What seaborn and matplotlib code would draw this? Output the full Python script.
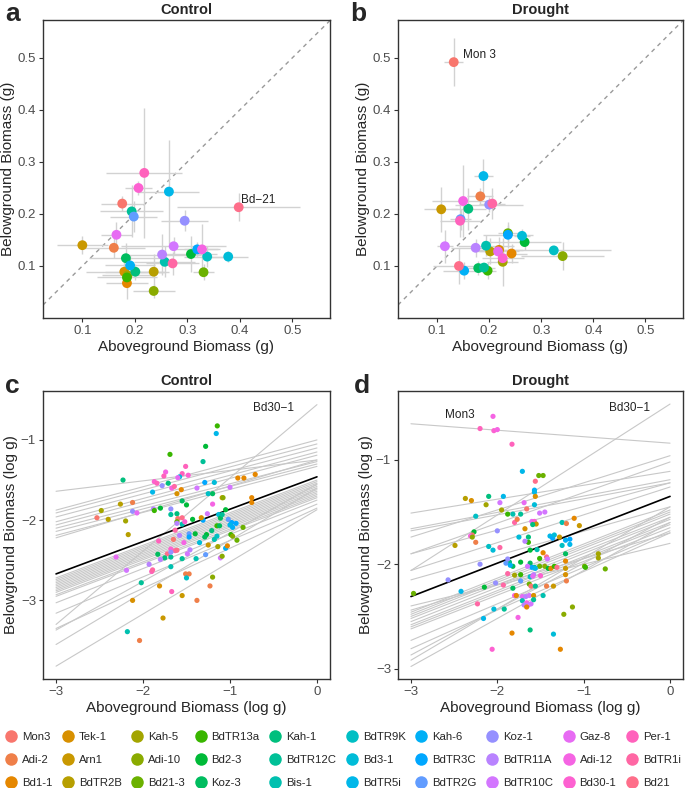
import numpy as np
import pandas as pd
import matplotlib
matplotlib.use("Agg")
import matplotlib.pyplot as plt
from matplotlib.lines import Line2D
import seaborn as sns

genotypes = ["Mon3", "Adi-2", "Bd1-1", "Tek-1", "Arn1", "BdTR2B", "Kah-5", "Adi-10",
             "Bd21-3", "BdTR13a", "Bd2-3", "Koz-3", "Kah-1", "BdTR12C", "Bis-1",
             "BdTR9K", "Bd3-1", "BdTR5i", "Kah-6", "BdTR3C", "BdTR2G", "Koz-1",
             "BdTR11A", "BdTR10C", "Gaz-8", "Adi-12", "Bd30-1", "Per-1", "BdTR1i", "Bd21"]

# panel a: genotype means (g) with standard errors, in genotype order
ctrl_above = [0.176, 0.160, 0.185, 0.180, 0.100, 0.236, 0.186, 0.236, 0.331, 0.185,
              0.307, 0.183, 0.201, 0.194, 0.257, 0.338, 0.378, 0.265, 0.191, 0.319,
              0.198, 0.295, 0.252, 0.274, 0.165, 0.328, 0.207, 0.218, 0.272, 0.398]
ctrl_below = [0.220, 0.135, 0.067, 0.089, 0.140, 0.089, 0.082, 0.052, 0.088, 0.078,
              0.123, 0.115, 0.089, 0.205, 0.108, 0.118, 0.118, 0.243, 0.101, 0.132,
              0.195, 0.187, 0.122, 0.138, 0.160, 0.132, 0.250, 0.279, 0.105, 0.213]
ctrl_above_se = [0.040, 0.060, 0.040, 0.073, 0.048, 0.030, 0.048, 0.040, 0.020, 0.058,
                 0.050, 0.070, 0.057, 0.060, 0.058, 0.045, 0.038, 0.058, 0.048, 0.040,
                 0.045, 0.045, 0.075, 0.100, 0.030, 0.035, 0.025, 0.072, 0.050, 0.117]
ctrl_below_se = [0.015, 0.020, 0.030, 0.025, 0.017, 0.035, 0.020, 0.013, 0.015, 0.020,
                 0.035, 0.030, 0.015, 0.050, 0.030, 0.020, 0.010, 0.100, 0.020, 0.015,
                 0.030, 0.020, 0.040, 0.017, 0.025, 0.048, 0.013, 0.125, 0.022, 0.027]

# panel b
drought_above = [0.132, 0.183, 0.243, 0.219, 0.108, 0.202, 0.226, 0.341, 0.236, 0.197,
                 0.268, 0.179, 0.160, 0.190, 0.194, 0.324, 0.263, 0.189, 0.152, 0.236,
                 0.145, 0.200, 0.174, 0.115, 0.217, 0.150, 0.226, 0.144, 0.206, 0.142]
drought_below = [0.492, 0.234, 0.124, 0.131, 0.209, 0.128, 0.108, 0.119, 0.163, 0.091,
                 0.146, 0.096, 0.210, 0.097, 0.139, 0.130, 0.158, 0.273, 0.091, 0.160,
                 0.190, 0.218, 0.135, 0.138, 0.128, 0.225, 0.115, 0.187, 0.220, 0.100]
drought_above_se = [0.018, 0.025, 0.030, 0.045, 0.033, 0.022, 0.030, 0.080, 0.020, 0.016,
                    0.070, 0.020, 0.033, 0.022, 0.054, 0.110, 0.016, 0.018, 0.040, 0.048,
                    0.020, 0.065, 0.048, 0.016, 0.040, 0.060, 0.040, 0.038, 0.025, 0.050]
drought_below_se = [0.046, 0.016, 0.018, 0.025, 0.043, 0.025, 0.046, 0.027, 0.015, 0.016,
                    0.016, 0.013, 0.040, 0.007, 0.020, 0.005, 0.013, 0.032, 0.016, 0.025,
                    0.020, 0.015, 0.017, 0.032, 0.010, 0.070, 0.010, 0.032, 0.030, 0.034]

# panel c: individual plants (log g), genotype index
c_x = [-1.146, -1.158, -1.28, -1.69, -1.31, -1.51, -1.74, -1.55, -1.48, -1.76, -1.58, -1.60,
       -2.23, -1.87, -1.84, -1.78, -1.71, -1.67, -1.64, -1.56, -1.61, -1.89, -1.38, -1.29,
       -1.18, -1.25, -1.20, -1.09, -1.00, -0.91, -0.84, -0.71, -0.75, -0.75, -2.26, -2.12,
       -2.12, -2.07, -2.48, -2.53, -2.40, -2.20, -2.17, -1.88, -1.87, -1.80, -1.68, -1.68,
       -1.61, -1.55, -1.50, -1.60, -1.55, -1.61, -1.55, -1.61, -1.52, -1.43, -1.31, -1.33,
       -1.26, -1.20, -1.13, -1.11, -1.09, -1.05, -1.08, -1.15, -1.12, -1.02, -0.98, -1.00,
       -0.97, -0.93, -0.85, -0.99, -0.97, -0.92, -1.21, -1.15, -1.18, -1.27, -1.29, -1.40,
       -1.35, -1.47, -1.47, -1.58, -1.63, -1.65, -1.82, -1.68, -1.63, -1.61, -1.72, -1.83,
       -1.68, -1.75, -1.80, -1.68, -1.53, -1.55, -1.49, -1.46, -1.39, -1.28, -1.25, -1.14,
       -1.05, -1.03, -1.11, -1.09, -2.31, -2.19, -1.93, -1.90, -1.89, -1.68, -1.51, -1.47,
       -1.50, -1.20, -1.23, -2.02, -1.81, -1.67, -1.55, -1.38, -2.12, -1.77, -2.18, -2.04]
c_y = [-0.825, -0.92, -1.08, -1.18, -1.27, -1.33, -1.40, -1.42, -1.44, -1.45, -1.46, -1.47,
       -1.50, -1.52, -1.54, -1.57, -1.54, -1.60, -1.58, -1.62, -1.67, -1.65, -1.60, -1.53,
       -1.53, -1.67, -1.67, -1.72, -1.59, -1.475, -1.475, -1.43, -1.72, -1.78, -1.80, -1.78,
       -1.89, -1.91, -1.88, -1.97, -1.99, -2.01, -2.18, -1.86, -1.88, -1.85, -1.86, -1.93,
       -1.92, -1.76, -1.81, -1.98, -1.97, -2.02, -2.05, -2.04, -2.02, -1.99, -2.00, -1.97,
       -1.92, -1.80, -1.93, -1.975, -1.93, -1.87, -1.72, -2.07, -2.07, -1.99, -2.03, -2.06,
       -2.09, -2.04, -2.09, -2.18, -2.20, -2.25, -2.13, -2.20, -2.24, -2.18, -2.21, -2.17,
       -2.28, -2.17, -2.21, -2.19, -2.125, -2.24, -2.26, -2.36, -2.38, -2.375, -2.42, -2.425,
       -2.46, -2.47, -2.49, -2.40, -2.28, -2.48, -2.42, -2.37, -2.48, -2.43, -2.31, -2.33,
       -2.35, -2.32, -2.47, -2.45, -2.46, -2.625, -2.55, -2.64, -2.62, -2.58, -2.67, -2.67,
       -2.72, -2.71, -2.82, -2.78, -2.82, -2.89, -2.94, -3.00, -3.00, -3.22, -3.39, -3.50]
c_g = [9, 17, 10, 9, 13, 27, 25, 27, 26, 27, 16, 24,
       12, 26, 27, 21, 12, 25, 28, 2, 3, 17, 23, 19,
       16, 15, 11, 4, 23, 2, 2, 2, 2, 2, 5, 1,
       21, 24, 6, 0, 5, 6, 5, 22, 9, 10, 21, 13,
       12, 11, 10, 0, 29, 8, 14, 22, 26, 10, 19, 3,
       23, 25, 16, 11, 13, 10, 7, 9, 11, 20, 19, 17,
       18, 19, 8, 9, 7, 8, 12, 15, 14, 10, 11, 10,
       16, 20, 19, 22, 28, 0, 27, 26, 28, 29, 29, 11,
       13, 12, 22, 21, 25, 13, 23, 22, 14, 20, 4, 6,
       18, 2, 23, 7, 24, 23, 22, 27, 28, 14, 1, 1,
       15, 7, 1, 13, 3, 27, 4, 1, 3, 4, 14, 1]

# panel d
d_x = [-2.05, -2.20, -2.04, -2.00, -1.83, -1.71, -1.52, -1.47, -1.56, -1.57, -1.57, -1.56,
       -2.10, -1.93, -2.37, -2.30, -2.13, -1.97, -1.69, -1.57, -1.95, -1.88, -1.82, -1.73,
       -1.66, -1.51, -1.45, -2.25, -1.80, -1.77, -1.60, -1.57, -1.55, -1.59, -1.25, -1.20,
       -1.11, -1.05, -1.68, -2.00, -2.27, -2.29, -2.31, -2.29, -2.25, -2.49, -2.10, -2.05,
       -1.75, -1.64, -1.64, -1.62, -1.54, -1.97, -1.68, -1.47, -1.43, -1.51, -1.42, -1.39,
       -1.36, -1.34, -1.28, -1.21, -1.16, -1.16, -1.25, -1.21, -1.21, -1.21, -1.21, -1.20,
       -1.45, -1.41, -1.38, -1.34, -1.31, -1.51, -1.62, -1.57, -1.60, -1.56, -1.73, -1.65,
       -1.82, -1.86, -1.90, -1.85, -2.20, -1.88, -1.58, -1.50, -1.73, -1.80, -1.88, -1.62,
       -1.59, -1.73, -1.63, -1.61, -1.56, -1.82, -2.02, -1.93, -2.15, -1.80, -1.71, -1.67,
       -1.78, -1.63, -1.58, -1.71, -1.66, -1.61, -1.58, -1.47, -1.43, -1.35, -2.42, -2.57,
       -2.97, -2.23, -1.69, -1.64, -1.66, -2.04, -1.92, -2.16, -1.76, -1.13, -1.23, -1.83,
       -1.62, -1.35, -2.06, -1.27, -0.83, -0.83, -0.99, -0.98, -0.75]
d_y = [-0.583, -0.70, -0.72, -0.71, -0.85, -1.11, -1.15, -1.15, -1.205, -1.29, -1.31, -1.35,
       -1.35, -1.35, -1.37, -1.39, -1.43, -1.41, -1.41, -1.43, -1.48, -1.52, -1.52, -1.52,
       -1.47, -1.51, -1.50, -1.54, -1.60, -1.57, -1.59, -1.59, -1.615, -1.62, -1.60, -1.61,
       -1.56, -1.63, -1.66, -1.68, -1.69, -1.72, -1.73, -1.74, -1.79, -1.82, -1.83, -1.865,
       -1.74, -1.74, -1.79, -1.865, -1.86, -1.84, -1.78, -1.89, -1.93, -1.945, -1.95, -1.73,
       -1.75, -1.72, -1.74, -1.77, -1.76, -1.81, -1.82, -1.90, -1.97, -2.04, -2.10, -2.16,
       -2.02, -2.04, -2.04, -2.02, -2.03, -2.02, -1.99, -2.03, -2.03, -2.04, -1.98, -2.02,
       -2.02, -1.98, -1.99, -2.01, -2.00, -1.95, -2.10, -2.11, -2.10, -2.105, -2.09, -2.12,
       -2.115, -2.16, -2.19, -2.21, -2.21, -2.23, -2.18, -2.20, -2.22, -2.30, -2.31, -2.31,
       -2.30, -2.30, -2.30, -2.35, -2.37, -2.38, -2.34, -2.30, -2.21, -2.21, -2.26, -2.15,
       -2.28, -2.38, -2.39, -2.39, -2.41, -2.43, -2.43, -2.52, -2.51, -2.41, -2.48, -2.66,
       -2.63, -2.67, -2.815, -2.815, -1.90, -1.94, -2.02, -2.03, -2.045]
d_g = [25, 27, 26, 25, 27, 17, 8, 8, 29, 18, 17, 3,
       12, 17, 5, 3, 6, 23, 24, 16, 6, 9, 14, 13,
       0, 23, 23, 15, 28, 1, 24, 26, 4, 12, 14, 1,
       2, 4, 3, 21, 10, 0, 25, 7, 1, 5, 15, 16,
       16, 12, 9, 10, 14, 28, 22, 2, 29, 9, 23, 17,
       19, 16, 4, 18, 19, 17, 15, 11, 2, 4, 3, 1,
       7, 10, 2, 9, 29, 8, 11, 13, 19, 17, 10, 23,
       11, 12, 20, 18, 21, 21, 22, 26, 9, 6, 28, 15,
       24, 20, 8, 0, 13, 11, 21, 28, 10, 25, 24, 22,
       2, 23, 3, 14, 25, 23, 13, 14, 1, 4, 17, 21,
       8, 28, 22, 23, 2, 16, 13, 17, 25, 7, 7, 2,
       12, 16, 26, 2, 6, 6, 8, 9, 8]

# genotype regression fits: fitted value at log x = -3 and at log x = 0
c_fit_lo = [-1.64, -1.875, -1.91, -1.96, -2.02, -2.06, -2.10, -2.14, -2.19, -2.22,
            -2.72, -2.74, -2.76, -2.78, -2.80, -2.82, -2.84, -2.86, -2.88, -2.90,
            -2.93, -2.95, -3.03, -3.16, -3.35, -3.37, -3.55, -3.82, -3.30]
c_fit_hi = [-1.25, -1.00, -1.05, -1.10, -1.15, -1.19, -1.27, -1.30, -1.33, -1.25,
            -1.50, -1.52, -1.54, -1.56, -1.58, -1.60, -1.62, -1.64, -1.66, -1.68,
            -1.70, -1.72, -1.75, -1.80, -1.85, -1.55, -1.60, -1.87, -0.56]
c_all_fit = [-2.67, -1.46]
d_fit_lo = [-0.654, -2.06, -1.51, -1.66, -1.68, -1.74, -1.90, -2.06, -2.15,
            -2.46, -2.48, -2.50, -2.52, -2.55, -2.58, -2.60, -2.62, -2.73, -2.81,
            -2.87, -2.92, -2.98, -2.40, -2.44, -1.90]
d_fit_hi = [-0.84, -0.465, -1.11, -1.19, -1.22, -0.96, -1.02, -1.26, -1.45,
            -1.48, -1.50, -1.52, -1.55, -1.57, -1.60, -1.62, -1.65, -1.68, -1.70,
            -1.55, -1.45, -1.60, -1.80, -1.70, -1.22]
d_all_fit = [-2.31, -1.35]
fit_x = [-3, 0]


def hue_pal(n, c=100.0, l=65.0):
    # ggplot2 default hue palette (HCL -> sRGB)
    hues = np.linspace(15, 375, n + 1)[:n]
    un, vn = 0.1978398, 0.4683363
    cols = []
    for h in hues:
        u = c * np.cos(np.deg2rad(h))
        v = c * np.sin(np.deg2rad(h))
        Y = ((l + 16) / 116) ** 3
        up = u / (13 * l) + un
        vp = v / (13 * l) + vn
        X = Y * 9 * up / (4 * vp)
        Z = Y * (12 - 3 * up - 20 * vp) / (4 * vp)
        r = 3.240479 * X - 1.537150 * Y - 0.498535 * Z
        g = -0.969256 * X + 1.875992 * Y + 0.041556 * Z
        b = 0.055648 * X - 0.204043 * Y + 1.057311 * Z
        rgb = []
        for t in (r, g, b):
            t = 12.92 * t if t <= 0.0031308 else 1.055 * t ** (1 / 2.4) - 0.055
            rgb.append(min(max(t, 0), 1))
        cols.append(tuple(rgb))
    return cols


colors = hue_pal(len(genotypes))
pal = dict(zip(genotypes, colors))

sns.set_style("ticks")
plt.rcParams["font.family"] = ["Liberation Sans", "DejaVu Sans"]
plt.rcParams["axes.edgecolor"] = "#333333"
plt.rcParams["axes.linewidth"] = 1.0
plt.rcParams["xtick.color"] = "#333333"
plt.rcParams["ytick.color"] = "#333333"
plt.rcParams["xtick.labelcolor"] = "#4D4D4D"
plt.rcParams["ytick.labelcolor"] = "#4D4D4D"
plt.rcParams["xtick.labelsize"] = 9.5
plt.rcParams["ytick.labelsize"] = 9.5
plt.rcParams["xtick.major.size"] = 3
plt.rcParams["ytick.major.size"] = 3
plt.rcParams["xtick.major.pad"] = 2
plt.rcParams["ytick.major.pad"] = 2

fig = plt.figure(figsize=(6.85, 7.88), dpi=100)
W, H = 685, 788


def add_ax(l, t, r, b):
    return fig.add_axes([l / W, 1 - b / H, (r - l) / W, (b - t) / H])


ax_a = add_ax(43, 20, 330, 318)
ax_b = add_ax(398, 20, 683, 318)
ax_c = add_ax(43, 391, 330, 679)
ax_d = add_ax(398, 391, 683, 679)


def mean_panel(ax, xs, ys, xse, yse, title):
    df = pd.DataFrame({"genotype": genotypes, "above": xs, "below": ys})
    ax.axline((0, 0), slope=1, color="#9A9A9A", ls=(0, (3, 3)), lw=1, zorder=1)
    ax.errorbar(xs, ys, xerr=xse, yerr=yse, fmt="none", ecolor="#D2D2D2",
                elinewidth=1, capsize=0, zorder=2)
    sns.scatterplot(data=df, x="above", y="below", hue="genotype", hue_order=genotypes,
                    palette=pal, s=50, edgecolor="none", legend=False, ax=ax, zorder=3)
    ax.set_xlim(0.025, 0.572)
    ax.set_ylim(0.0, 0.573)
    ax.set_xticks([0.1, 0.2, 0.3, 0.4, 0.5])
    ax.set_yticks([0.1, 0.2, 0.3, 0.4, 0.5])
    ax.set_xlabel("Aboveground Biomass (g)", fontsize=11, labelpad=2)
    ax.set_ylabel("Belowground Biomass (g)", fontsize=11, labelpad=2)
    ax.set_title(title, fontsize=10.5, fontweight="bold", pad=4)


def log_panel(ax, xs, ys, gs, lo, hi, all_fit, title, ylim):
    lines = pd.DataFrame({
        "line": np.repeat(np.arange(len(lo)), 2),
        "x": fit_x * len(lo),
        "y": [v for pair in zip(lo, hi) for v in pair],
    })
    sns.lineplot(data=lines, x="x", y="y", units="line", estimator=None,
                 color="#C8C8C8", lw=0.8, ax=ax, zorder=1)
    sns.lineplot(x=fit_x, y=all_fit, color="black", lw=1.2, ax=ax, zorder=2)
    df = pd.DataFrame({"x": xs, "y": ys, "genotype": [genotypes[i] for i in gs]})
    sns.scatterplot(data=df, x="x", y="y", hue="genotype", hue_order=genotypes,
                    palette=pal, s=14, edgecolor="none", legend=False, ax=ax, zorder=3)
    ax.set_xlim(-3.15, 0.15)
    ax.set_ylim(*ylim)
    ax.set_xticks([-3, -2, -1, 0])
    ax.set_yticks([-3, -2, -1])
    ax.set_xlabel("Aboveground Biomass (log g)", fontsize=11, labelpad=2)
    ax.set_ylabel("Belowground Biomass (log g)", fontsize=11, labelpad=2)
    ax.set_title(title, fontsize=10.5, fontweight="bold", pad=4)


mean_panel(ax_a, ctrl_above, ctrl_below, ctrl_above_se, ctrl_below_se, "Control")
mean_panel(ax_b, drought_above, drought_below, drought_above_se, drought_below_se, "Drought")
ax_a.text(0.403, 0.227, "Bd\u221221", fontsize=8.5, color="#222222", va="center")
ax_b.text(0.150, 0.506, "Mon 3", fontsize=8.5, color="#222222", va="center")

log_panel(ax_c, c_x, c_y, c_g, c_fit_lo, c_fit_hi, c_all_fit, "Control", (-3.98, -0.39))
log_panel(ax_d, d_x, d_y, d_g, d_fit_lo, d_fit_hi, d_all_fit, "Drought", (-3.10, -0.34))
ax_c.text(-0.50, -0.60, "Bd30\u22121", fontsize=8.5, color="#222222", ha="center", va="center")
ax_d.text(-0.47, -0.50, "Bd30\u22121", fontsize=8.5, color="#222222", ha="center", va="center")
ax_d.text(-2.43, -0.57, "Mon3", fontsize=8.5, color="#222222", ha="center", va="center")

for lab, x, y in [("a", 5, 2), ("b", 350, 2), ("c", 5, 374), ("d", 354, 374)]:
    fig.text(x / W, 1 - y / H, lab, fontsize=19, fontweight="bold", va="top", ha="left")

handles = [Line2D([], [], marker="o", ls="none", markersize=9, markerfacecolor=pal[g],
                  markeredgecolor="none") for g in genotypes]
fig.legend(handles, genotypes, ncol=10, loc="lower center", bbox_to_anchor=(0.5, -0.006),
           frameon=False, fontsize=8.2, handletextpad=0.35, columnspacing=0.78,
           labelspacing=1.15, handlelength=1.2, borderaxespad=0.0)

fig.savefig("out.png", dpi=100)
